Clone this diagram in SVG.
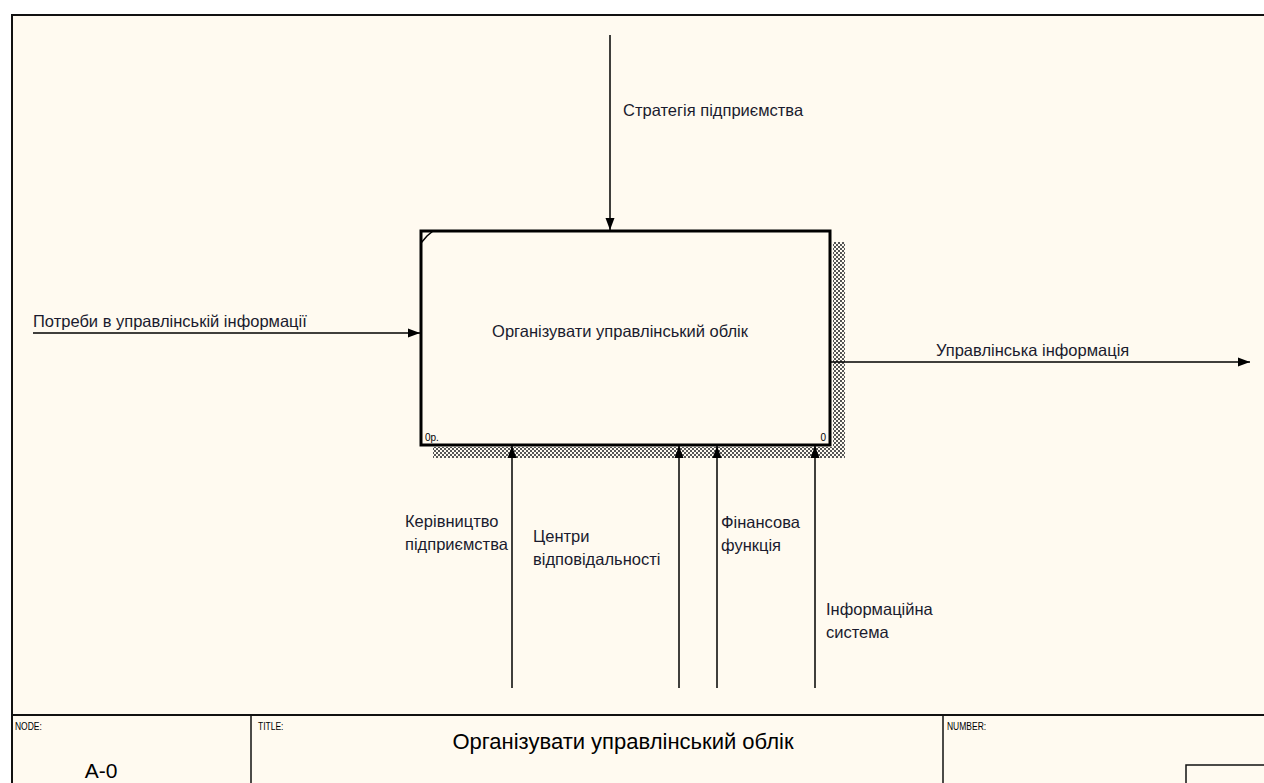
<svg xmlns="http://www.w3.org/2000/svg" width="1264" height="783" viewBox="0 0 1264 783">
<defs>
<pattern id="hatch" width="4" height="4" patternUnits="userSpaceOnUse">
<rect width="4" height="4" fill="#fffaf0"/>
<rect x="0" y="0" width="2" height="2" fill="#555"/>
<rect x="2" y="2" width="2" height="2" fill="#555"/>
</pattern>
<marker id="arr" viewBox="0 0 12 10" refX="12" refY="5" markerWidth="12" markerHeight="10" markerUnits="userSpaceOnUse" orient="auto">
<path d="M0,0.5 L12,5 L0,9.5 Z" fill="#000"/>
</marker>
</defs>
<style>
.t{font-family:"Liberation Sans",Arial,sans-serif;font-size:16.5px;fill:#1a1a2e}
.s{font-family:"Liberation Sans",Arial,sans-serif;font-size:10px;fill:#000}
.c{stroke:#000;stroke-width:1.5;fill:none}
</style>
<rect width="1264" height="783" fill="#ffffff"/>
<rect x="12" y="15" width="1262" height="780" fill="#fffaf0" stroke="#111" stroke-width="2"/>
<g id="node-A0">
<rect x="833" y="242" width="12" height="216" fill="url(#hatch)"/>
<rect x="433" y="447" width="412" height="11" fill="url(#hatch)"/>
<rect x="421" y="231" width="409" height="214" fill="#fffaf0" stroke="#000" stroke-width="3"/>
<path d="M421,243 L427,236 L433,231" stroke="#000" stroke-width="1.5" fill="none"/>
<text class="t" x="620" y="337" text-anchor="middle" font-size="17">Організувати управлінський облік</text>
<text class="s" x="425" y="441">0р.</text>
<text class="s" x="826" y="441" text-anchor="end">0</text>
</g>
<g id="connectors">
<line class="c" x1="33" y1="333" x2="420" y2="333" marker-end="url(#arr)"/>
<line class="c" x1="830" y1="362" x2="1250" y2="362" marker-end="url(#arr)"/>
<line class="c" x1="610" y1="35" x2="610" y2="230" marker-end="url(#arr)"/>
<line class="c" x1="512" y1="688" x2="512" y2="446" marker-end="url(#arr)"/>
<line class="c" x1="679" y1="688" x2="679" y2="446" marker-end="url(#arr)"/>
<line class="c" x1="717" y1="688" x2="717" y2="446" marker-end="url(#arr)"/>
<line class="c" x1="815" y1="688" x2="815" y2="446" marker-end="url(#arr)"/>
<text class="t" x="33" y="327">Потреби в управлінській інформації</text>
<text class="t" x="936" y="356">Управлінська інформація</text>
<text class="t" x="623" y="116">Стратегія підприємства</text>
<text class="t" x="405" y="527">Керівництво</text>
<text class="t" x="405" y="550">підприємства</text>
<text class="t" x="533" y="542">Центри</text>
<text class="t" x="533" y="565">відповідальності</text>
<text class="t" x="721" y="528">Фінансова</text>
<text class="t" x="721" y="551">функція</text>
<text class="t" x="826" y="615">Інформаційна</text>
<text class="t" x="826" y="638">система</text>
</g>
<g id="titleblock">
<line x1="12" y1="715" x2="1264" y2="715" stroke="#111" stroke-width="2"/>
<line x1="251" y1="715" x2="251" y2="783" stroke="#111" stroke-width="1.5"/>
<line x1="943" y1="715" x2="943" y2="783" stroke="#111" stroke-width="1.5"/>
<text class="s" x="15" y="730" transform="translate(15 730) scale(0.85 1) translate(-15 -730)">NODE:</text>
<text class="s" x="258" y="730" transform="translate(258 730) scale(0.85 1) translate(-258 -730)">TITLE:</text>
<text class="s" x="947" y="730" transform="translate(947 730) scale(0.85 1) translate(-947 -730)">NUMBER:</text>
<text x="101" y="778" text-anchor="middle" font-family="Liberation Sans, Arial, sans-serif" font-size="21" fill="#000">A-0</text>
<text x="623" y="749" text-anchor="middle" font-family="Liberation Sans, Arial, sans-serif" font-size="22" fill="#000">Організувати управлінський облік</text>
<rect x="1186" y="765" width="90" height="30" fill="none" stroke="#111" stroke-width="1.5"/>
</g>
</svg>
